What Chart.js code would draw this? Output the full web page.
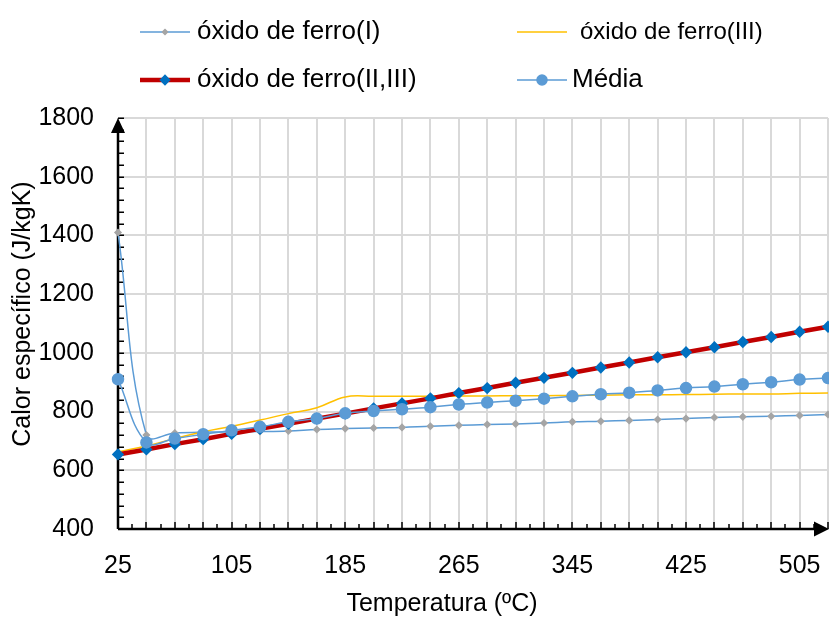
<!DOCTYPE html>
<html>
<head>
<meta charset="utf-8">
<script src="https://cdn.jsdelivr.net/npm/chart.js@4.4.1/dist/chart.umd.min.js"></script>
<style>
  html, body { margin: 0; padding: 0; background: #fff; }
  #wrap { width: 829px; height: 617px; }
</style>
</head>
<body>
<div id="wrap"><canvas id="grafico" width="829" height="617"></canvas></div>
<script>
const temperaturas = [25, 45, 65, 85, 105, 125, 145, 165, 185, 205, 225, 245, 265, 285, 305, 325, 345, 365, 385, 405, 425, 445, 465, 485, 505, 525]

const oxidoFerroI = [1410, 720, 727, 730, 731, 732, 734, 739, 742, 744, 746, 750, 753, 756, 758, 761, 765, 767, 770, 773, 776, 780, 782, 784, 787, 790]
const oxidoFerroIII = [663, 683, 708, 731, 750, 771, 793, 813, 850, 852, 852, 852, 853, 853, 854, 854, 855, 856, 857, 857, 858, 859, 860, 860, 862, 863]
const oxidoFerroIIeIII = [654, 671, 689, 706, 724, 741, 758, 776, 793, 811, 828, 845, 863, 880, 898, 915, 932, 950, 967, 985, 1002, 1019, 1037, 1054, 1072, 1089]
const media = [910, 695, 708, 723, 736, 748, 765, 776, 794, 802, 808, 815, 824, 831, 837, 844, 852, 859, 864, 872, 880, 885, 893, 900, 909, 914]

const yTicks = { min: 400, max: 1800, step: 200, minor: 40 }

const fonte = "'Liberation Sans', Arial, sans-serif"

// legend layout: two columns, two rows (symbol line from x0 to x1, text at tx)
const legendaPos = [
  { ds: 0, x0: 140, x1: 190, tx: 197, y: 32, size: 26 },
  { ds: 1, x0: 517, x1: 567, tx: 580, y: 32, size: 24 },
  { ds: 2, x0: 140, x1: 190, tx: 197, y: 80, size: 26 },
  { ds: 3, x0: 517, x1: 567, tx: 572, y: 80, size: 26 }
]

const eixosPlugin = {
  id: "eixos",
  beforeDatasetsDraw(chart) {
    const { ctx, chartArea: a, scales: { x, y } } = chart
    ctx.save()
    ctx.strokeStyle = "#000"
    ctx.fillStyle = "#000"

    //minor ticks on y, pointing inward
    ctx.lineWidth = 1.5
    ctx.beginPath()
    for (let v = yTicks.min; v <= yTicks.max; v += yTicks.minor) {
      const py = Math.round(y.getPixelForValue(v)) + 0.25
      ctx.moveTo(a.left, py)
      ctx.lineTo(a.left + 6, py)
    }
    //ticks on x: long at every category, short in between
    for (let i = 0; i < temperaturas.length; i++) {
      const px = Math.round(x.getPixelForValue(i))
      ctx.moveTo(px, a.bottom)
      ctx.lineTo(px, a.bottom - 7)
      if (i < temperaturas.length - 1) {
        const pm = Math.round((x.getPixelForValue(i) + x.getPixelForValue(i + 1)) / 2)
        ctx.moveTo(pm, a.bottom)
        ctx.lineTo(pm, a.bottom - 5)
      }
    }
    ctx.stroke()

    //axis lines
    ctx.lineWidth = 2.5
    ctx.beginPath()
    ctx.moveTo(a.left, a.bottom)
    ctx.lineTo(a.left, a.top + 8)
    ctx.moveTo(a.left, a.bottom)
    ctx.lineTo(a.right - 8, a.bottom)
    ctx.stroke()

    //arrow heads
    ctx.beginPath()
    ctx.moveTo(a.left, a.top)
    ctx.lineTo(a.left - 7, a.top + 15)
    ctx.lineTo(a.left + 7, a.top + 15)
    ctx.closePath()
    ctx.moveTo(a.right + 1, a.bottom)
    ctx.lineTo(a.right - 14, a.bottom - 7.5)
    ctx.lineTo(a.right - 14, a.bottom + 7.5)
    ctx.closePath()
    ctx.fill()
    ctx.restore()
  },
  afterDraw(chart) {
    const { ctx } = chart
    ctx.save()
    ctx.fillStyle = "#000"
    ctx.textBaseline = "middle"

    //axis titles
    ctx.font = `25px ${fonte}`
    ctx.textAlign = "center"
    ctx.fillText("Temperatura (ºC)", 442, 604)
    ctx.save()
    ctx.translate(23, 314)
    ctx.rotate(-Math.PI / 2)
    ctx.fillText("Calor específico (J/kgK)", 0, 0)
    ctx.restore()

    //legend
    legendaPos.forEach(item => {
      const ds = chart.data.datasets[item.ds]
      ctx.strokeStyle = ds.borderColor
      ctx.lineWidth = ds.borderWidth
      ctx.beginPath()
      ctx.moveTo(item.x0, item.y)
      ctx.lineTo(item.x1, item.y)
      ctx.stroke()
      if (ds.pointRadius > 0) {
        ctx.fillStyle = ds.pointBackgroundColor
        ctx.strokeStyle = ds.pointBorderColor
        Chart.helpers.drawPoint(ctx, { pointStyle: ds.pointStyle, radius: ds.pointRadius - 0.5, rotation: 0, borderWidth: 1 }, (item.x0 + item.x1) / 2, item.y)
      }
      ctx.fillStyle = "#000"
      ctx.textAlign = "left"
      ctx.font = `${item.size}px ${fonte}`
      ctx.fillText(ds.label, item.tx, item.y)
    })
    ctx.restore()
  }
}

const datasets = [
  {
    label: "óxido de ferro(I)",
    data: oxidoFerroI,
    borderColor: "#5B9BD5",
    borderWidth: 1.5,
    pointStyle: "rectRot",
    pointRadius: 3,
    pointBackgroundColor: "#A5A5A5",
    pointBorderColor: "#A5A5A5",
    tension: 0.4,
    order: 3
  },
  {
    label: "óxido de ferro(III)",
    data: oxidoFerroIII,
    borderColor: "#FFC000",
    borderWidth: 1.5,
    pointRadius: 0,
    tension: 0.4,
    order: 2
  },
  {
    label: "óxido de ferro(II,III)",
    data: oxidoFerroIIeIII,
    borderColor: "#C00000",
    borderWidth: 4.5,
    pointStyle: "rectRot",
    pointRadius: 3,
    pointBackgroundColor: "#0070C0",
    pointBorderColor: "#0070C0",
    tension: 0,
    order: 1
  },
  {
    label: "Média",
    data: media,
    borderColor: "#5B9BD5",
    borderWidth: 1.5,
    pointStyle: "circle",
    pointRadius: 5.5,
    pointBackgroundColor: "#5B9BD5",
    pointBorderColor: "#5B9BD5",
    tension: 0.4,
    order: 0
  }
]
datasets.forEach(ds => { ds.clip = false; ds.fill = false; ds.pointHoverRadius = ds.pointRadius })

new Chart(document.getElementById("grafico"), {
  type: "line",
  data: { labels: temperaturas, datasets: datasets },
  options: {
    responsive: false,
    animation: false,
    devicePixelRatio: 1,
    //no extra room for the markers: the last circle runs off the edge
    layout: { autoPadding: false, padding: { top: 118, right: 1, left: 0, bottom: 0 } },
    plugins: { legend: { display: false }, tooltip: { enabled: false } },
    scales: {
      x: {
        type: "category",
        offset: false,
        afterFit: scale => {
          scale.height = 88
          scale.paddingLeft = 0
          scale.paddingRight = 0
        },
        grid: { color: "#D9D9D9", lineWidth: 2, drawTicks: false },
        border: { display: false },
        ticks: {
          autoSkip: false,
          maxRotation: 0,
          padding: 22,
          color: "#000",
          font: { family: fonte, size: 25 },
          callback: (v, i) => i % 4 === 0 ? temperaturas[i] : ""
        }
      },
      y: {
        min: yTicks.min,
        max: yTicks.max,
        afterFit: scale => {
          scale.width = 118
          scale.paddingTop = 0
          scale.paddingBottom = 0
        },
        grid: { color: "#D9D9D9", lineWidth: 2, drawTicks: false },
        border: { display: false },
        ticks: {
          stepSize: yTicks.step,
          padding: 24,
          color: "#000",
          font: { family: fonte, size: 25 },
          callback: v => String(v)
        }
      }
    }
  },
  plugins: [eixosPlugin]
})
</script>
</body>
</html>
